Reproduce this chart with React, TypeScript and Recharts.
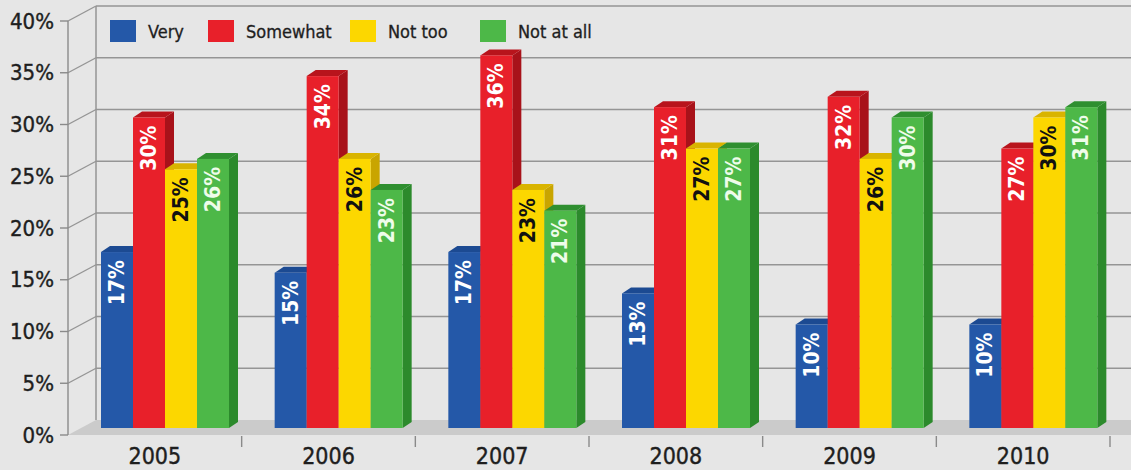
import { BarChart, Bar, XAxis, YAxis, CartesianGrid, Legend, LabelList } from "recharts";

const years = ["2005", "2006", "2007", "2008", "2009", "2010"];
const very = [17, 15, 17, 13, 10, 10];
const somewhat = [30, 34, 36, 31, 32, 27];
const notToo = [25, 26, 23, 27, 26, 30];
const notAtAll = [26, 23, 21, 27, 30, 31];
const yTicks = [0, 5, 10, 15, 20, 25, 30, 35, 40];

const series = [
  { key: "very", name: "Very", front: "#2458a8", side: "#183f7e", top: "#1c4a92", text: "#ffffff", slot: 98 },
  { key: "somewhat", name: "Somewhat", front: "#e8202a", side: "#a8121a", top: "#b8141c", text: "#ffffff", slot: 142 },
  { key: "notToo", name: "Not too", front: "#fcd700", side: "#c9a500", top: "#d9b400", text: "#111111", slot: 130 },
  { key: "notAtAll", name: "Not at all", front: "#4db848", side: "#2c8a2c", top: "#2f8f30", text: "#eefcea", slot: 130 },
];

const data = years.map((year, i) => ({
  year,
  very: very[i],
  somewhat: somewhat[i],
  notToo: notToo[i],
  notAtAll: notAtAll[i],
}));

const FONT = "'Liberation Sans Narrow', 'DejaVu Sans Condensed', 'Roboto', sans-serif";
const PLOT_TOP = 21;
const WALL_DX = 28; // depth of back wall
const WALL_DY = 15;
const BAR_SHIFT_X = 10; // bars sit half way in depth
const BAR_SHIFT_Y = 7;
const SIDE_D = 9;
const SIDE_DY = 6;

const makeShape = (s: any) => (props: any) => {
  const { x, y, width, height } = props;
  if (height == null || height <= 0) return null;
  const fx = x + BAR_SHIFT_X;
  const fy = y - BAR_SHIFT_Y;
  const side = `${fx + width},${fy} ${fx + width + SIDE_D},${fy - SIDE_DY} ${fx + width + SIDE_D},${fy + height - SIDE_DY} ${fx + width},${fy + height}`;
  const top = `${fx},${fy} ${fx + SIDE_D},${fy - SIDE_DY} ${fx + width + SIDE_D},${fy - SIDE_DY} ${fx + width},${fy}`;
  return (
    <g>
      <polygon points={side} fill={s.side} />
      <polygon points={top} fill={s.top} />
      <rect x={fx} y={fy} width={width} height={height} fill={s.front} />
    </g>
  );
};

const makeLabel = (s: any) => (props: any) => {
  const { x, y, width, value } = props;
  const cx = x + BAR_SHIFT_X + width / 2;
  const ty = y - BAR_SHIFT_Y + 8;
  return (
    <text
      x={cx}
      y={ty}
      transform={`rotate(-90 ${cx} ${ty})`}
      textAnchor="end"
      dominantBaseline="central"
      fill={s.text}
      fontFamily={FONT}
      fontWeight="bold"
      fontSize={21}
    >
      {value}%
    </text>
  );
};

const WallLine = (p: any) => {
  const { x1, y1, x2, index } = p;
  const grid = "#959595";
  if (index === 0) {
    // floor
    const floor = `${x1},${y1} ${x2 + 40},${y1} ${x2 + 40 + WALL_DX},${y1 - WALL_DY} ${x1 + WALL_DX},${y1 - WALL_DY}`;
    return (
      <g key={`f-${index}`}>
        <polygon points={floor} fill="#cbcbcb" />
        <line x1={x1 + WALL_DX} y1={y1 - WALL_DY} x2={x1 + WALL_DX} y2={PLOT_TOP - WALL_DY} stroke={grid} strokeWidth={1.5} />
      </g>
    );
  }
  return (
    <g key={`w-${index}`}>
      <line x1={x1 + WALL_DX} y1={y1 - WALL_DY} x2={x2 + 60} y2={y1 - WALL_DY} stroke={grid} strokeWidth={1.6} />
      <line x1={x1} y1={y1} x2={x1 + WALL_DX} y2={y1 - WALL_DY} stroke={grid} strokeWidth={1.4} />
    </g>
  );
};

const YTick = (p: any) => {
  const { x, y, payload } = p;
  return (
    <g>
      <line x1={x - 8} y1={y} x2={x} y2={y} stroke="#8a8a8a" strokeWidth={1.4} />
      <text x={x - 14} y={y} textAnchor="end" dominantBaseline="central" fill="#1e1e1e" fontFamily={FONT} fontSize={22} stroke="#1e1e1e" strokeWidth={0.4}>
        {payload.value}%
      </text>
    </g>
  );
};

const XTick = (p: any) => {
  const { x, y, payload } = p;
  const edge = x + (payload.offset || 0);
  return (
    <g>
      <line x1={edge} y1={y + 1} x2={edge} y2={y + 12} stroke="#8a8a8a" strokeWidth={1.4} />
      <text x={x} y={y + 21} textAnchor="middle" dominantBaseline="central" fill="#1e1e1e" fontFamily={FONT} fontSize={23} stroke="#1e1e1e" strokeWidth={0.4}>
        {payload.value}
      </text>
    </g>
  );
};

const LegendContent = () => (
  <div style={{ display: "flex", alignItems: "center", fontFamily: FONT, fontSize: 18, color: "#1e1e1e", WebkitTextStroke: "0.3px #1e1e1e", whiteSpace: "nowrap" }}>
    {series.map((s) => (
      <div key={s.key} style={{ display: "flex", alignItems: "center", width: s.slot, flexShrink: 0 }}>
        <span style={{ display: "inline-block", width: 26, height: 22, background: s.front, marginRight: 12, flexShrink: 0 }} />
        <span>{s.name}</span>
      </div>
    ))}
  </div>
);

export default function App() {
  return (
    <div style={{ position: "fixed", left: 0, top: 0, width: 1131, height: 470, background: "#e6e6e6" }}>
      <BarChart
        width={1131}
        height={470}
        data={data}
        margin={{ top: PLOT_TOP, right: 21, bottom: 0, left: 0 }}
        barSize={32}
        barGap={0}
        style={{ overflow: "hidden" }}
      >
        <CartesianGrid vertical={false} horizontal={WallLine as any} />
        <XAxis dataKey="year" height={35} axisLine={false} tickLine={false} tickSize={0} tickMargin={0} tick={XTick} interval={0} />
        <YAxis
          width={68}
          domain={[0, 40]}
          ticks={yTicks}
          axisLine={{ stroke: "#8a8a8a", strokeWidth: 1.4 }}
          tickLine={false}
          tickSize={0}
          tickMargin={0}
          tick={YTick}
          interval={0}
        />
        <Legend
          layout="horizontal"
          verticalAlign="middle"
          align="center"
          content={<LegendContent />}
          wrapperStyle={{ position: "absolute", top: 20, left: 110, width: 600, height: 24 }}
        />
        {series.map((s) => (
          <Bar key={s.key} dataKey={s.key} name={s.name} shape={makeShape(s)} isAnimationActive={false}>
            <LabelList dataKey={s.key} content={makeLabel(s)} />
          </Bar>
        ))}
      </BarChart>
    </div>
  );
}
